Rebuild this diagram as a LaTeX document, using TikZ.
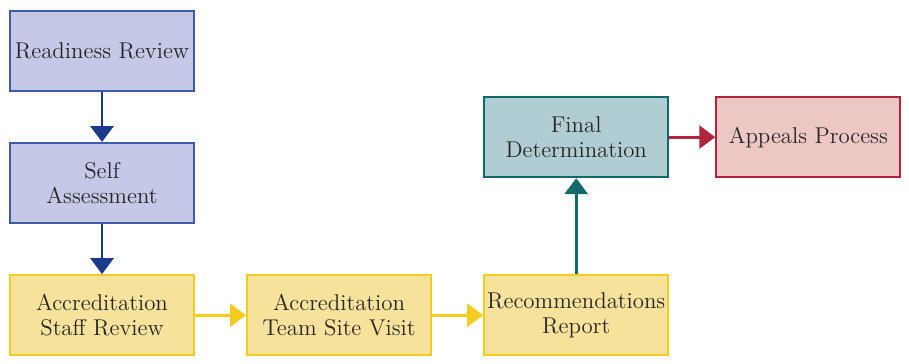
\documentclass[tikz,border=0pt]{standalone}
\usepackage{tikz}
\usetikzlibrary{arrows.meta}
\usetikzlibrary{positioning}
\definecolor{bluefill}{HTML}{C5C8E6}
\definecolor{blueline}{HTML}{3F5BA9}
\definecolor{bluearrow}{HTML}{1B3A8C}
\definecolor{yellowfill}{HTML}{F7E29B}
\definecolor{yellowline}{HTML}{F2CD1F}
\definecolor{tealfill}{HTML}{AFCDD2}
\definecolor{tealline}{HTML}{10696A}
\definecolor{redfill}{HTML}{EDC7C4}
\definecolor{redline}{HTML}{B0243D}
\tikzset{
	stage/.style={rectangle, draw, line width=1.2pt, minimum width=3.68cm, minimum height=1.60cm, align=center, inner sep=0pt, font=\fontsize{13}{14.5}\selectfont, text=black!85},
	review/.style={stage, fill=bluefill, draw=blueline},
	visit/.style={stage, fill=yellowfill, draw=yellowline},
	decide/.style={stage, fill=tealfill, draw=tealline},
	appeal/.style={stage, fill=redfill, draw=redline},
	arrow/.style={draw, line width=1.6pt, -{Triangle[width=0.46cm, length=0.32cm]}}
}

\begin{document}
\begin{tikzpicture}
\useasboundingbox (0,0) rectangle (18.18,-7.28);

\node[review] (readiness) at (2.04,-1.02) {Readiness Review};

\node[review, below = 1cm of readiness] (selfassess) {Self\\Assessment};

\node[visit, below = 1cm of selfassess] (staffreview) {Accreditation\\Staff Review};

\node[visit, right = 1.02cm of staffreview] (sitevisit) {Accreditation\\Team Site Visit};

\node[visit, right = 1.02cm of sitevisit] (recommend) {Recommendations\\Report};

\node[decide, above = 1.92cm of recommend] (finaldet) {Final\\Determination};

\node[appeal, right = 0.92cm of finaldet] (appeals) {Appeals Process};

\draw [arrow, bluearrow] (readiness) -- (selfassess);
\draw [arrow, bluearrow] (selfassess) -- (staffreview);
\draw [arrow, yellowline] (staffreview) -- (sitevisit);
\draw [arrow, yellowline] (sitevisit) -- (recommend);
\draw [arrow, tealline] (recommend) -- (finaldet);
\draw [arrow, redline] (finaldet) -- (appeals);

\end{tikzpicture}
\end{document}
